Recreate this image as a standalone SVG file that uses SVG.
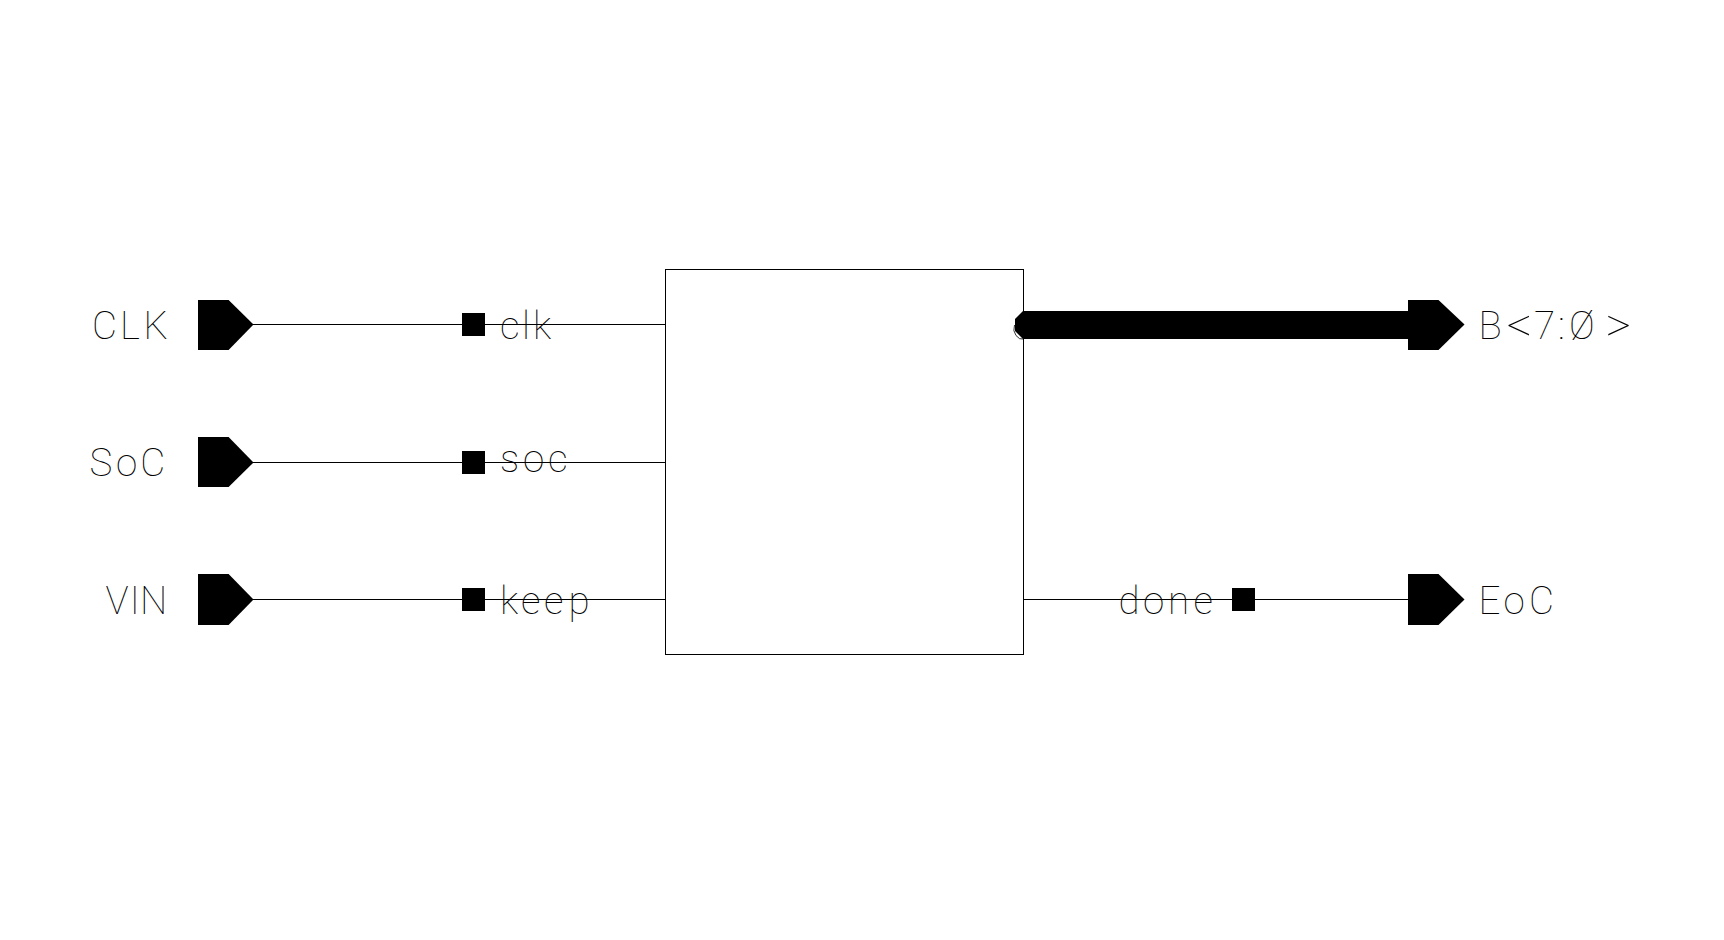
<svg xmlns="http://www.w3.org/2000/svg" width="1724" height="940" viewBox="0 0 1724 940">
<style>
.bg{fill:#fff}
.wire{stroke:#000;stroke-width:1;fill:none;shape-rendering:crispEdges}
.box{stroke:#000;stroke-width:1;fill:#fff;shape-rendering:crispEdges}
.fill{fill:#000;stroke:none}
.sq{fill:#000;shape-rendering:crispEdges}
.big{font-size:50px}
text{font-family:Roboto,"Liberation Sans",sans-serif;font-weight:100;font-size:38.5px;fill:#000}
</style>
<rect class="bg" width="1724" height="940"/>
<g id="block"><rect class="box" x="665.500" y="269.500" width="358" height="385"/></g>
<g id="connectors">
<path class="wire" d="M253 324.500H665M253 462.500H665M253 599.500H665M1023 599.500H1408"/>
<path class="fill" d="M1023 311H1408V339H1023L1015 331V319Z"/>
<path d="M1014.500 325Q1012.500 331 1016 335.500T1023 339" fill="none" stroke="#000" stroke-width="0.8"/>
</g>
<g id="pin-clk"><path class="fill" d="M198 300H228.600L253.500 324.500L228.600 350H198Z"/><text x="92 120 143.500" y="339">CLK</text></g>
<g id="pin-soc"><path class="fill" d="M198 437H228.600L253.500 462.500L228.600 487H198Z"/><text x="89.500 116 140.300" y="475.500">SoC</text></g>
<g id="pin-vin"><path class="fill" d="M198 574H228.600L253.500 599.500L228.600 625H198Z"/><text x="105.500 129.700 140" y="613.500">VIN</text></g>
<g id="pin-b"><path class="fill" d="M1408 300H1438.500L1464.500 324.500L1438.500 350H1408Z"/><text y="339" x="1478.500">B<tspan class="big" x="1506.500" y="341.500">&lt;</tspan><tspan x="1534 1558 1569" y="339">7:Ø</tspan><tspan class="big" x="1605.500" y="341.500">&gt;</tspan></text></g>
<g id="pin-eoc"><path class="fill" d="M1408 574H1438.500L1464.500 599.500L1438.500 625H1408Z"/><text x="1478.500 1503.500 1529" y="613.500">EoC</text></g>
<g id="net-clk"><rect class="sq" x="462" y="313" width="23" height="23"/><text x="500 522 533" y="339">clk</text></g>
<g id="net-soc"><rect class="sq" x="462" y="451" width="23" height="23"/><text x="500 523 548" y="472">soc</text></g>
<g id="net-keep"><rect class="sq" x="462" y="588" width="23" height="23"/><text x="500 521 544 568.500" y="613.500">keep</text></g>
<g id="net-done"><rect class="sq" x="1232" y="588" width="23" height="23"/><text x="1118.500 1143 1168 1193.500" y="613.500">done</text></g>
</svg>
